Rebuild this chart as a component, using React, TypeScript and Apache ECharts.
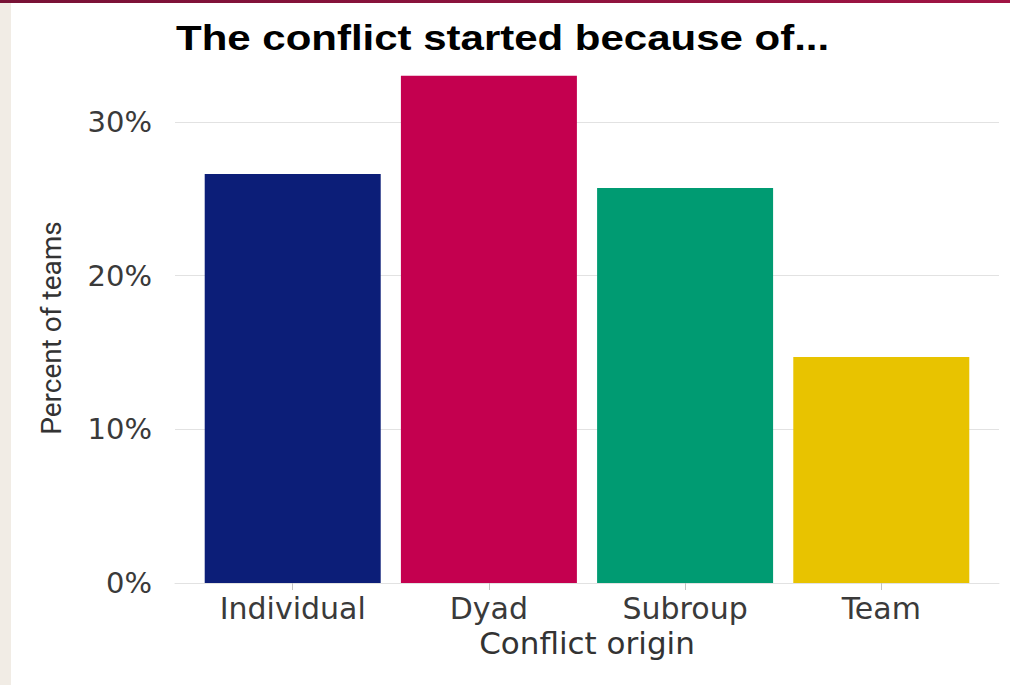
import React, { useEffect, useRef } from "react";
import * as echarts from "echarts";

const categories = ["Individual", "Dyad", "Subroup", "Team"];
const percentValues = [26.6, 33.0, 25.7, 14.7];
const barColors = ["#0c1e78", "#c4004f", "#009b72", "#e8c300"];
const yTickValues = [0, 10, 20, 30];
const titleText = "The conflict started because of...";
const xAxisTitle = "Conflict origin";
const yAxisTitle = "Percent of teams";

export default function App() {
  const ref = useRef<HTMLDivElement>(null);
  useEffect(() => {
    if (!ref.current) return;
    const chart = echarts.init(ref.current, null, { renderer: "svg" });
    const idx = categories.map((_, i) => i);
    chart.setOption({
      animation: false,
      backgroundColor: "#ffffff",
      grid: { left: 175, right: 11, top: 45, height: 538, containLabel: false },
      xAxis: {
        type: "value",
        min: -0.6,
        max: 3.6,
        splitLine: { show: false },
        axisLine: { show: true, lineStyle: { color: "#e2e2e2", width: 1 } },
        axisTick: {
          show: true,
          customValues: idx,
          length: 7,
          lineStyle: { color: "#c4c4c4" },
        },
        axisLabel: {
          customValues: idx,
          formatter: (v: number) => categories[Math.round(v)] ?? "",
          fontFamily: "DejaVu Sans",
          fontSize: 30,
          color: "#3a3a3a",
          margin: 10,
        },
        name: xAxisTitle,
        nameLocation: "middle",
        nameGap: 42,
        nameTextStyle: { fontFamily: "DejaVu Sans", fontSize: 31, color: "#333333" },
      },
      yAxis: {
        type: "value",
        min: 0,
        max: 35,
        interval: 10,
        axisLine: { show: false },
        axisTick: { show: false },
        splitLine: { show: true, showMaxLine: false, lineStyle: { color: "#e2e2e2", width: 1 } },
        axisLabel: {
          customValues: yTickValues,
          formatter: (v: number) => (yTickValues.includes(v) ? v + "%" : ""),
          fontFamily: "DejaVu Sans",
          fontSize: 29,
          color: "#3a3a3a",
          margin: 23,
        },
      },
      series: [
        {
          type: "bar",
          barWidth: 176,
          data: percentValues.map((v, i) => ({
            value: [i, v],
            itemStyle: { color: barColors[i] },
          })),
        },
      ],
      graphic: [
        {
          type: "rect",
          left: 0,
          top: 0,
          shape: { width: 11, height: 685 },
          style: { fill: "#f1ece5" },
          z: 10,
        },
        {
          type: "rect",
          left: 0,
          top: 0,
          shape: { width: 1010, height: 3 },
          style: {
            fill: new echarts.graphic.LinearGradient(0, 0, 1, 0, [
              { offset: 0, color: "#781236" },
              { offset: 1, color: "#a01444" },
            ]),
          },
          z: 11,
        },
        {
          type: "text",
          x: 176,
          y: 38,
          scaleX: 1.2,
          style: {
            text: titleText,
            fontFamily: "Liberation Sans",
            fontWeight: "bold",
            fontSize: 35,
            fill: "#000000",
            align: "left",
            verticalAlign: "middle",
          },
          z: 10,
        },
        {
          type: "text",
          x: 51,
          y: 328,
          rotation: Math.PI / 2,
          style: {
            text: yAxisTitle,
            fontFamily: "Roboto",
            fontSize: 28,
            fill: "#333333",
            align: "center",
            verticalAlign: "middle",
          },
          z: 10,
        },
      ],
    });
    return () => chart.dispose();
  }, []);
  return (
    <div
      ref={ref}
      style={{ position: "absolute", left: 0, top: 0, width: 1010, height: 685 }}
    />
  );
}
